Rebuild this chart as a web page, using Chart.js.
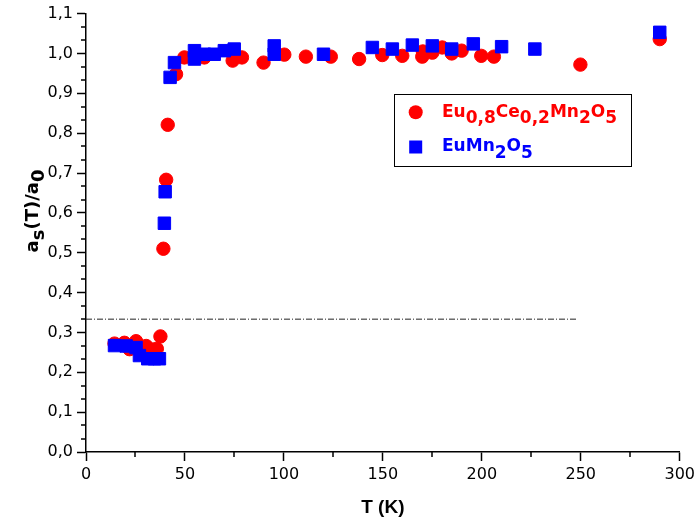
<!DOCTYPE html>
<html><head><meta charset="utf-8">
<script src="https://cdn.jsdelivr.net/npm/chart.js@4/dist/chart.umd.min.js"></script>
<style>html,body{margin:0;padding:0;background:#fff;}canvas{display:block;}</style>
</head><body>
<canvas id="c" width="699" height="524"></canvas>
<script>
// ---- data ----
const seriesNames = ['Eu_{0,8}Ce_{0,2}Mn_{2}O_{5}', 'EuMn_{2}O_{5}'];
const xTitle = 'T (K)';
const yTitle = 'a_{s}(T)/a_{0}';
const xTickValues = [0, 50, 100, 150, 200, 250, 300];
const yTickValues = [0, 0.1, 0.2, 0.3, 0.4, 0.5, 0.6, 0.7, 0.8, 0.9, 1.0, 1.1];

const ceT     = [14.4, 19.4, 22, 25.3, 30.4, 33.7, 35.8, 37.6, 39.1, 40.5, 41.3, 45.5, 49.7, 59.8, 74.1, 78.8, 89.7, 100.2, 111.1, 123.7, 138, 149.7, 159.8, 169.9, 170.2, 175, 180, 184.8, 189.8, 199.7, 206.1, 249.8, 289.9];
const ceRatio = [0.272, 0.274, 0.258, 0.278, 0.266, 0.257, 0.259, 0.290, 0.510, 0.683, 0.821, 0.948, 0.990, 0.990, 0.982, 0.990, 0.977, 0.997, 0.992, 0.992, 0.986, 0.996, 0.994, 0.992, 1.005, 1.002, 1.015, 1.000, 1.007, 0.994, 0.992, 0.972, 1.036];

const euT     = [14.4, 20.3, 25.3, 27, 31.2, 34.6, 37.1, 39.6, 40, 42.5, 44.7, 54.8, 54.8, 59.8, 64.8, 69.9, 74.9, 95.1, 95.1, 120, 144.7, 154.8, 164.9, 175, 184.8, 195.7, 210, 226.8, 289.9];
const euRatio = [0.267, 0.266, 0.262, 0.242, 0.234, 0.234, 0.234, 0.574, 0.653, 0.940, 0.977, 1.007, 0.986, 0.998, 0.998, 1.007, 1.011, 1.019, 0.998, 0.998, 1.015, 1.011, 1.021, 1.019, 1.011, 1.024, 1.017, 1.011, 1.053];

const refLineT = [0, 248];
const refLineY = [0.3333, 0.3333];

const seriesColors = ['#FF0000', '#0000FF'];

// ---- helpers ----
function parseRich(s) {
  const segs = []; const re = /_\{([^}]*)\}|([^_]+)/g; let m;
  while ((m = re.exec(s)) !== null) {
    if (m[1] !== undefined) segs.push({t: m[1], sub: true}); else segs.push({t: m[2], sub: false});
  }
  return segs;
}
function richWidth(ctx, segs) { return segs.reduce((w, s) => w + ctx.measureText(s.t).width, 0); }
function drawRich(ctx, segs, x, y, subOff) {
  let cx = x;
  segs.forEach(s => { ctx.fillText(s.t, cx, s.sub ? y + subOff : y); cx += ctx.measureText(s.t).width; });
}

const extrasPlugin = {
  id: 'extras',
  afterDraw(chart) {
    const ctx = chart.ctx;
    const xs = chart.scales.x, ys = chart.scales.y;
    ctx.save();
    // minor ticks
    ctx.strokeStyle = '#000'; ctx.lineWidth = 1.5;
    for (let i = 0; i < xTickValues.length - 1; i++) {
      const v = (xTickValues[i] + xTickValues[i + 1]) / 2;
      const px = Math.round(xs.getPixelForValue(v));
      ctx.beginPath(); ctx.moveTo(px, xs.top); ctx.lineTo(px, xs.top + 5); ctx.stroke();
    }
    for (let i = 0; i < yTickValues.length - 1; i++) {
      const a = yTickValues[i], b = yTickValues[i + 1];
      [1, 2].forEach(k => {
        const v = a + (b - a) * k / 3;
        const py = Math.round(ys.getPixelForValue(v));
        ctx.beginPath(); ctx.moveTo(ys.right - 5, py); ctx.lineTo(ys.right, py); ctx.stroke();
      });
    }
    // y title
    ctx.fillStyle = '#000';
    ctx.font = 'bold 18px "DejaVu Sans"';
    ctx.textBaseline = 'alphabetic'; ctx.textAlign = 'left';
    const ySegs = parseRich(yTitle);
    const yw = richWidth(ctx, ySegs);
    ctx.save();
    ctx.translate(38, 211);
    ctx.rotate(-Math.PI / 2);
    drawRich(ctx, ySegs, -yw / 2, 0, 6);
    ctx.restore();
    // legend
    const lx = 394.5, ly = 94.5, lw = 237, lh = 72;
    ctx.strokeStyle = '#000'; ctx.lineWidth = 1;
    ctx.strokeRect(lx, ly, lw, lh);
    ctx.font = 'bold 17px "DejaVu Sans"';
    const rows = [{y: 116.7, style: 'circle'}, {y: 151, style: 'rect'}];
    rows.forEach((r, i) => {
      ctx.fillStyle = seriesColors[i];
      const my = r.y - 4.5;
      if (r.style === 'circle') { ctx.beginPath(); ctx.arc(415.7, my, 7, 0, Math.PI * 2); ctx.fill(); }
      else { ctx.fillRect(415.7 - 6.5, my + 0.5 - 6.5, 13, 13); }
      drawRich(ctx, parseRich(seriesNames[i]), 442, r.y, 6.6);
    });
    ctx.restore();
  }
};

Chart.defaults.font.family = '"DejaVu Sans"';
Chart.defaults.color = '#000';

new Chart(document.getElementById('c'), {
  type: 'scatter',
  data: {
    datasets: [
      {
        label: 'EuMn2O5',
        data: euT.map((t, i) => ({x: t, y: euRatio[i]})),
        pointStyle: 'rect', pointRadius: 8.8, borderWidth: 1,
        backgroundColor: seriesColors[1], borderColor: seriesColors[1], order: 0
      },
      {
        label: 'Eu0,8Ce0,2Mn2O5',
        data: ceT.map((t, i) => ({x: t, y: ceRatio[i]})),
        pointStyle: 'circle', pointRadius: 6.7, borderWidth: 1,
        backgroundColor: seriesColors[0], borderColor: seriesColors[0], order: 1
      },
      {
        label: 'ref',
        data: refLineT.map((t, i) => ({x: t, y: refLineY[i]})),
        showLine: true, pointRadius: 0, borderWidth: 1, borderColor: '#222',
        borderDash: [6, 2, 1, 2], order: 2
      }
    ]
  },
  options: {
    responsive: false, animation: false, events: [],
    layout: {padding: {left: 0, right: 18, top: 13, bottom: 0}},
    plugins: {legend: {display: false}, tooltip: {enabled: false}},
    scales: {
      x: {
        type: 'linear', min: 0, max: 300,
        afterFit(s) { s.height = 72; },
        afterBuildTicks(s) { s.ticks = xTickValues.map(v => ({value: v})); },
        ticks: {font: {size: 16}, padding: 4, maxRotation: 0, callback: v => String(v)},
        grid: {display: true, drawOnChartArea: false, tickLength: 9, tickWidth: 1.5, tickColor: '#000'},
        border: {display: true, color: '#000', width: 1.5},
        title: {display: true, text: xTitle, font: {family: '"Liberation Sans"', size: 19, weight: 'bold'}, padding: {top: 0, bottom: 5}}
      },
      y: {
        type: 'linear', min: 0, max: 1.1,
        afterFit(s) { s.width = 86; },
        afterBuildTicks(s) { s.ticks = yTickValues.map(v => ({value: v})); },
        ticks: {font: {size: 16}, padding: 4, callback: v => v.toFixed(1).replace('.', ',')},
        grid: {display: true, drawOnChartArea: false, tickLength: 9, tickWidth: 1.5, tickColor: '#000'},
        border: {display: true, color: '#000', width: 1.5}
      }
    }
  },
  plugins: [extrasPlugin]
});
</script>
</body></html>
